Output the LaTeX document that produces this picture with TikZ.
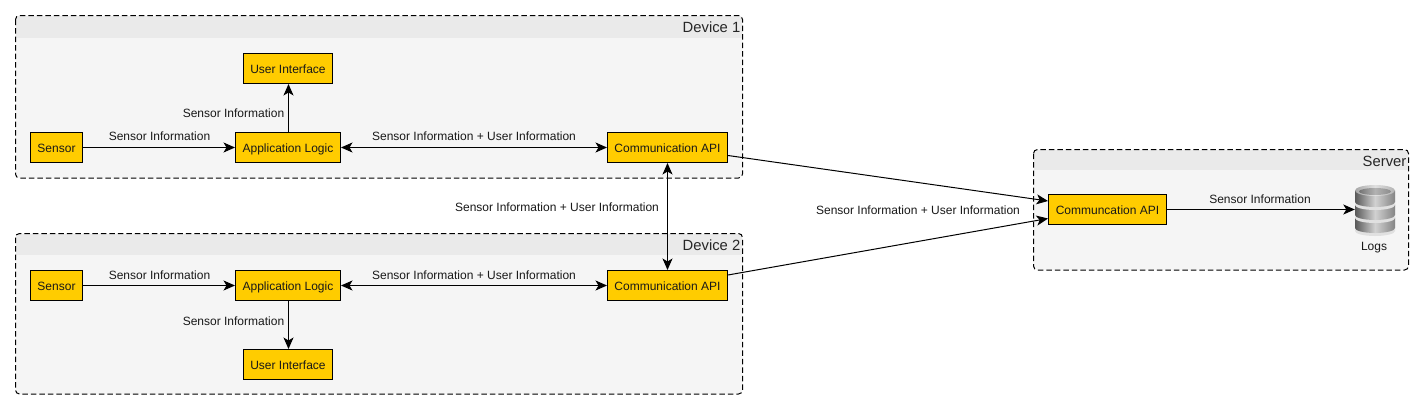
\documentclass[tikz,border=0pt]{standalone}
\usepackage{fontspec}
\setmainfont{Liberation Sans}
\usetikzlibrary{arrows.meta,calc}
\definecolor{gfill}{HTML}{F5F5F5}
\definecolor{ghead}{HTML}{EAEAEA}
\definecolor{boxy}{HTML}{FFCC00}
\tikzset{
  x=1pt,y=-1pt,
  group/.style={draw=black,dash pattern=on 5.5pt off 3pt,rounded corners=4pt,line width=1pt},
  bx/.style={draw=black,fill=boxy,line width=1pt,inner sep=0pt,minimum height=30pt,text height=9.8pt,text depth=.6pt,font=\fontsize{12}{14}\selectfont,text=black!90},
  lbl/.style={inner sep=0pt,font=\fontsize{12}{14}\selectfont,text=black!90},
  ttl/.style={inner sep=0pt,anchor=base east,font=\fontsize{14.8}{17}\selectfont,text=black!85},
  conn/.style={draw=black,line width=1pt,-{Stealth[length=11.5pt,width=10pt,inset=3pt]}},
  bconn/.style={draw=black,line width=1pt,{Stealth[length=11.5pt,width=10pt,inset=3pt]}-{Stealth[length=11.5pt,width=10pt,inset=3pt]}}
}
\newcommand{\grp}[6]{%
  \fill[gfill,rounded corners=4pt] (#1,#2) rectangle (#3,#4);
  \begin{scope}
    \clip[rounded corners=4pt] (#1,#2) rectangle (#3,#4);
    \fill[ghead] (#1,#2) rectangle (#3,#5);
  \end{scope}
  \draw[group] (#1,#2) rectangle (#3,#4);
  \node[ttl] at (#3-2,#2+16.5) {#6};
}
\begin{document}
\begin{tikzpicture}
\useasboundingbox (0,0) rectangle (1424,410);
\fill[white] (0,0) rectangle (1424,410);
\grp{15.5}{15.5}{742.5}{178}{38}{Device 1}
\grp{15.5}{233.5}{742.5}{394}{255}{Device 2}
\grp{1033.5}{149.5}{1408.5}{270}{170}{Server}

% device 1
\node[bx,minimum width=52pt] (s1) at (56.5,147.5) {Sensor};
\node[bx,minimum width=89pt] (u1) at (288,68.5) {User Interface};
\node[bx,minimum width=105pt] (a1) at (288,147.5) {Application Logic};
\node[bx,minimum width=120pt] (c1) at (667.5,147.5) {Communication API};
% device 2
\node[bx,minimum width=52pt] (s2) at (56.5,285.5) {Sensor};
\node[bx,minimum width=89pt] (u2) at (288,364.5) {User Interface};
\node[bx,minimum width=105pt] (a2) at (288,285.5) {Application Logic};
\node[bx,minimum width=120pt] (c2) at (667.5,285.5) {Communication API};
% server
\node[bx,minimum width=118pt] (c3) at (1107.5,209.5) {Communcation API};

% database
\foreach \yt/\yb in {218/228,205/215,191/202}{
  \fill[black!12] (1355,\yt-1) -- (1355,\yb+3) arc[start angle=180,end angle=360,x radius=20pt,y radius=5pt] -- (1395,\yt-1) -- cycle;
  \shade[left color=black!65,right color=black!48,middle color=black!18]
    (1355,\yt) -- (1355,\yb) arc[start angle=180,end angle=360,x radius=20pt,y radius=5pt] -- (1395,\yt)
    arc[start angle=0,end angle=180,x radius=20pt,y radius=5pt] -- cycle;
}
\shade[left color=black!35,right color=black!30,middle color=black!12] (1375,190.5) ellipse[x radius=20pt,y radius=5.5pt];
\shade[left color=black!55,right color=black!45,middle color=black!30] (1375,191.5) ellipse[x radius=16pt,y radius=3.5pt];
\node[inner sep=0pt,minimum width=40pt,minimum height=47pt] (db) at (1375,209.5) {};
\node[lbl] (logs) at (1374,247.5) {Logs};

% connectors
\draw[conn] (s1) -- (a1);
\coordinate (a1n) at ($(a1.north)+(.5,0)$);
\coordinate (u1s) at ($(u1.south)+(.5,0)$);
\draw[conn] (a1n) -- (u1s);
\draw[bconn] (a1) -- (c1);
\draw[conn] (s2) -- (a2);
\coordinate (a2s) at ($(a2.south)+(.5,0)$);
\coordinate (u2n) at ($(u2.north)+(.5,0)$);
\draw[conn] (a2s) -- (u2n);
\draw[bconn] (a2) -- (c2);
\draw[bconn] (c1) -- (c2);
\draw[conn] (c3) -- (db.west);
\coordinate (o1) at ($(c1.east)+(0,8)$);
\coordinate (t1) at ($(c3.west)+(0,-8.5)$);
\coordinate (o2) at ($(c2.east)+(0,-10.5)$);
\coordinate (t2) at ($(c3.west)+(0,9)$);
\draw[conn] (o1) -- (t1);
\draw[conn] (o2) -- (t2);

% labels
\node[lbl] (l1) at (159.5,136) {Sensor Information};
\node[lbl] (l2) at (233.5,113.5) {Sensor Information};
\node[lbl] (l3) at (474,136) {Sensor Information + User Information};
\node[lbl] (l4) at (159.5,275) {Sensor Information};
\node[lbl] (l5) at (233.5,321) {Sensor Information};
\node[lbl] (l6) at (474,275) {Sensor Information + User Information};
\node[lbl] (l7) at (557,207.5) {Sensor Information + User Information};
\node[lbl] (l8) at (918,210.5) {Sensor Information + User Information};
\node[lbl] (l9) at (1260,199.5) {Sensor Information};
\end{tikzpicture}
\end{document}
